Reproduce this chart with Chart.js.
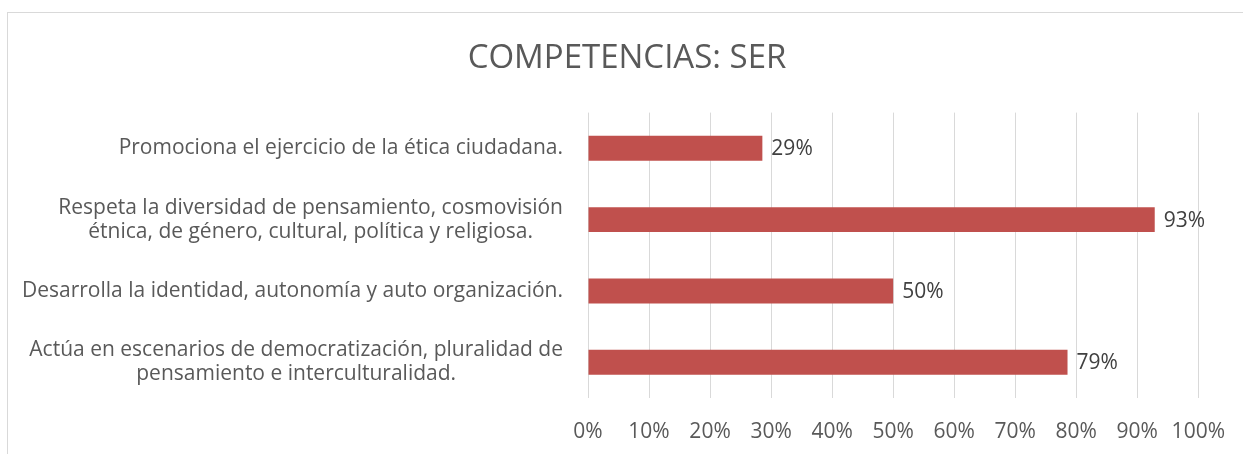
<!DOCTYPE html>
<html>
<head>
<meta charset="utf-8">
<script src="https://cdn.jsdelivr.net/npm/chart.js@4"></script>
<style>
  html, body { margin: 0; padding: 0; background: #fff; overflow: hidden; }
  #box { position: absolute; left: 7px; top: 12px; width: 1240px; height: 450px;
         border: 1px solid #d9d9d9; box-sizing: border-box; background: #fff; }
  canvas { display: block; }
</style>
</head>
<body>
<div id="box"><canvas id="chart" width="1238" height="448"></canvas></div>
<script>
const categories = [
  ['Promociona el ejercicio de la ética ciudadana.'],
  ['Respeta la diversidad de pensamiento, cosmovisión', 'étnica, de género, cultural, política y religiosa.'],
  ['Desarrolla la identidad, autonomía y auto organización.'],
  ['Actúa en escenarios de democratización, pluralidad de', 'pensamiento e interculturalidad.']
];
const values = [28.57, 92.86, 50, 78.57];
const xTicks = [0, 10, 20, 30, 40, 50, 60, 70, 80, 90, 100];

const FONT = '"Open Sans", Lato, sans-serif';
const TEXT = '#595959';
const SIZE = 21;

// draws the category labels: block right-aligned, lines centered in the block
const yLabels = {
  id: 'yLabels',
  afterDraw(chart) {
    const ctx = chart.ctx;
    const y = chart.scales.y;
    ctx.save();
    ctx.font = SIZE + 'px ' + FONT;
    ctx.fillStyle = TEXT;
    ctx.textAlign = 'center';
    ctx.textBaseline = 'middle';
    const right = chart.chartArea.left - 25;
    const lh = 24;
    categories.forEach((lines, i) => {
      const w = Math.max(...lines.map(l => ctx.measureText(l).width));
      const cx = right - w / 2;
      const cy = y.getPixelForValue(i);
      lines.forEach((l, j) => {
        ctx.fillText(l, cx, cy + (j - (lines.length - 1) / 2) * lh);
      });
    });
    ctx.restore();
  }
};

// value labels right of each bar
const barLabels = {
  id: 'barLabels',
  afterDatasetsDraw(chart) {
    const ctx = chart.ctx;
    ctx.save();
    ctx.font = SIZE + 'px ' + FONT;
    ctx.fillStyle = '#404040';
    ctx.textAlign = 'left';
    ctx.textBaseline = 'middle';
    chart.getDatasetMeta(0).data.forEach((bar, i) => {
      ctx.fillText(Math.round(values[i]) + '%', bar.x + 9, bar.y + 1);
    });
    ctx.restore();
  }
};

new Chart(document.getElementById('chart'), {
  type: 'bar',
  data: {
    labels: categories.map(c => c.join(' ')),
    datasets: [{
      data: values,
      backgroundColor: '#c0504d',
      borderWidth: 0,
      barPercentage: 0.35,
      categoryPercentage: 1
    }]
  },
  options: {
    indexAxis: 'y',
    responsive: false,
    animation: false,
    layout: { padding: { left: 0, right: 0, top: 0, bottom: 11 } },
    plugins: {
      legend: { display: false },
      tooltip: { enabled: false },
      title: {
        display: true,
        text: 'COMPETENCIAS: SER',
        color: TEXT,
        font: { family: FONT, size: 33, weight: 'normal' },
        padding: { top: 26, bottom: 34 }
      }
    },
    scales: {
      x: {
        min: 0,
        max: 100,
        afterBuildTicks(scale) { scale.ticks = xTicks.map(v => ({ value: v })); },
        grid: { color: '#d9d9d9', lineWidth: 1, drawTicks: false },
        border: { display: false },
        ticks: {
          color: TEXT,
          font: { family: FONT, size: SIZE },
          padding: 21,
          callback: v => v + '%'
        },
        afterFit(scale) { scale.height = 52; }
      },
      y: {
        grid: { display: false },
        border: { display: false },
        ticks: { display: false },
        afterFit(scale) { scale.width = 580; }
      },
      yRight: {
        type: 'linear',
        position: 'right',
        grid: { display: false },
        border: { display: false },
        ticks: { display: false },
        afterFit(scale) { scale.width = 46; }
      }
    }
  },
  plugins: [yLabels, barLabels]
});
</script>
</body>
</html>
